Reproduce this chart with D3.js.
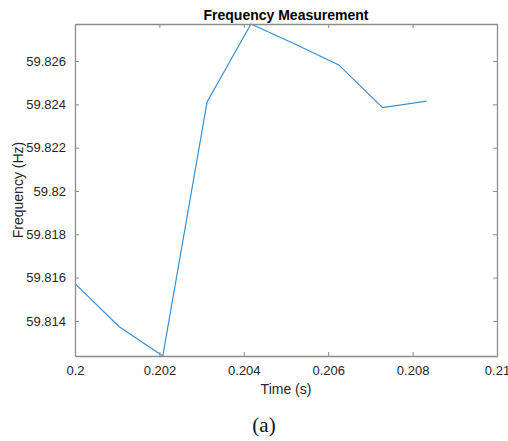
<!DOCTYPE html>
<html>
<head>
<meta charset="utf-8">
<script src="https://cdn.jsdelivr.net/npm/d3@7"></script>
<style>
  body { margin: 0; background: #fff; }
  text { font-family: "Liberation Sans", Arial, sans-serif; }
</style>
</head>
<body>
<svg id="chart"></svg>
<script>
// 数据
const timeValues = [0.2, 0.20104, 0.20208, 0.20313, 0.20417, 0.20521, 0.20625, 0.20729, 0.20833];
const freqValues = [59.81572, 59.81374, 59.81238, 59.82411, 59.82771, 59.82679, 59.82582, 59.82385, 59.82415];
const xTicks = [0.2, 0.202, 0.204, 0.206, 0.208, 0.21];
const yTicks = [59.814, 59.816, 59.818, 59.82, 59.822, 59.824, 59.826];

const width = 508, height = 441;
const margin = { top: 24, right: 11, bottom: 85, left: 75 };
const axisColor = "#8c8c8c";
const textColor = "#262626";

const svg = d3.select("#chart").attr("width", width).attr("height", height);

const x = d3.scaleLinear()
    .domain([0.2, 0.21])
    .range([margin.left, width - margin.right]);

const y = d3.scaleLinear()
    .domain([d3.min(freqValues), d3.max(freqValues)])
    .range([height - margin.bottom, margin.top]);

const data = timeValues.map((t, i) => ({ t: t, f: freqValues[i] }));

// 折线
const line = d3.line().x(d => x(d.t)).y(d => y(d.f));
svg.append("path")
    .datum(data)
    .attr("fill", "none")
    .attr("stroke", "#3a8fd0")
    .attr("stroke-width", 1.2)
    .attr("d", line);

// 坐标轴 (刻度朝内)
function styleAxis(g) {
    g.select(".domain").attr("stroke", axisColor).attr("stroke-width", 1.3);
    g.selectAll(".tick line").attr("stroke", axisColor);
    g.selectAll(".tick text").attr("fill", textColor).attr("font-size", "13px")
        .attr("font-family", "'Liberation Sans', Arial, sans-serif");
}

svg.append("g")
    .attr("transform", `translate(0,${height - margin.bottom})`)
    .call(d3.axisBottom(x).tickValues(xTicks).tickFormat(d => String(+d.toFixed(3)))
        .tickSizeInner(-4).tickSizeOuter(0).tickPadding(10))
    .call(styleAxis);

svg.append("g")
    .attr("transform", `translate(0,${margin.top})`)
    .call(d3.axisTop(x).tickValues(xTicks).tickFormat("")
        .tickSizeInner(-4).tickSizeOuter(0))
    .call(styleAxis);

svg.append("g")
    .attr("transform", `translate(${margin.left},0)`)
    .call(d3.axisLeft(y).tickValues(yTicks).tickFormat(d => String(+d.toFixed(3)))
        .tickSizeInner(-4).tickSizeOuter(0).tickPadding(9))
    .call(styleAxis);

svg.append("g")
    .attr("transform", `translate(${width - margin.right},0)`)
    .call(d3.axisRight(y).tickValues(yTicks).tickFormat("")
        .tickSizeInner(-4).tickSizeOuter(0))
    .call(styleAxis);

const cx = (margin.left + width - margin.right) / 2;

// 标题
svg.append("text")
    .attr("x", cx).attr("y", 20)
    .attr("text-anchor", "middle")
    .attr("font-size", "14px")
    .attr("font-weight", "bold")
    .attr("fill", "#000")
    .text("Frequency Measurement");

// x 轴标签
svg.append("text")
    .attr("x", cx).attr("y", 394)
    .attr("text-anchor", "middle")
    .attr("font-size", "14px")
    .attr("fill", textColor)
    .text("Time (s)");

// y 轴标签
svg.append("text")
    .attr("transform", `translate(23,${(margin.top + height - margin.bottom) / 2}) rotate(-90)`)
    .attr("text-anchor", "middle")
    .attr("font-size", "14px")
    .attr("fill", textColor)
    .text("Frequency (Hz)");

// 子图标记
svg.append("text")
    .attr("x", 264).attr("y", 432)
    .attr("text-anchor", "middle")
    .attr("font-size", "21px")
    .style("font-family", "'Liberation Serif', 'Times New Roman', serif")
    .attr("fill", "#111")
    .text("(a)");
</script>
</body>
</html>
